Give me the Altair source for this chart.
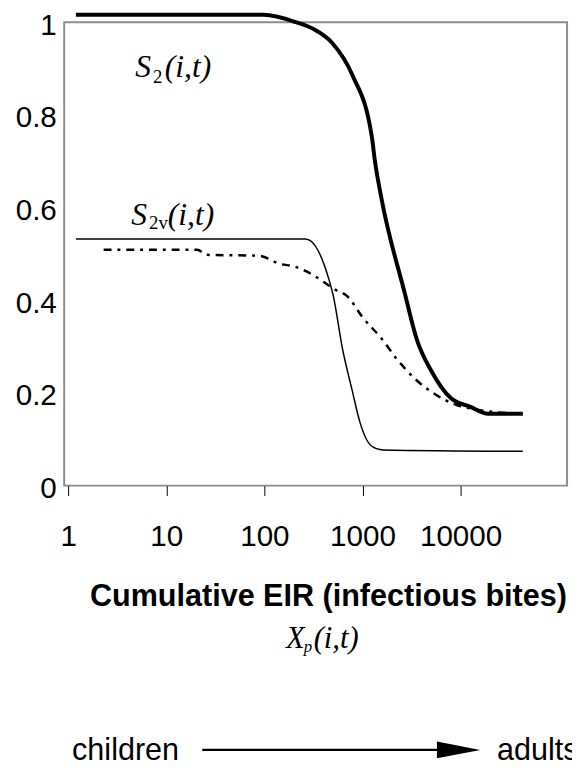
import altair as alt
import pandas as pd

# ---- data ----
s2_x = [1.2, 98, 210, 318, 492, 784, 1245, 1336, 1570, 2670, 3610, 4990, 7940, 12600, 19000, 43000]
s2_y = [1.016, 1.016, 1.0, 0.985, 0.955, 0.887, 0.753, 0.702, 0.617, 0.419, 0.313, 0.249, 0.189, 0.170, 0.155, 0.155]

s2v_x = [1.2, 264, 349, 440, 505, 622, 784, 944, 1245, 1607, 43000]
s2v_y = [0.532, 0.532, 0.509, 0.455, 0.409, 0.298, 0.206, 0.136, 0.085, 0.077, 0.074]

dash_x = [2.3, 20.7, 26, 89, 141, 209, 310, 526, 698, 1012, 1570, 2223, 3373, 5610, 9120, 14500, 43000]
dash_y = [0.509, 0.509, 0.498, 0.496, 0.479, 0.472, 0.455, 0.423, 0.409, 0.362, 0.317, 0.274, 0.232, 0.196, 0.174, 0.164, 0.155]

x_ticks = [1, 10, 100, 1000, 10000]
y_ticks = [0, 0.2, 0.4, 0.6, 0.8, 1.0]
x_domain = [0.9116, 121700]
y_domain = [0, 1]

title_text = "Cumulative EIR (infectious bites)"

SANS = "Liberation Sans"
SERIF = "Liberation Serif"

xs = alt.Scale(type="log", domain=x_domain, nice=False)
ys = alt.Scale(domain=y_domain, nice=False, zero=False)

xaxis = alt.Axis(values=x_ticks, format="d", title=None, grid=False, domain=False,
                 ticks=True, tickSize=10, tickColor="black", tickWidth=1,
                 labelFont=SANS, labelFontSize=30, labelColor="black",
                 labelPadding=51, labelBaseline="alphabetic", labelFlush=False)
yaxis = alt.Axis(values=y_ticks, format="~g", title=None, grid=False, domain=False,
                 ticks=False, labelFont=SANS, labelFontSize=30, labelColor="black",
                 labelPadding=8, labelOffset=3, labelFlush=False)


def curve(xv, yv, **kw):
    df = pd.DataFrame({"x": xv, "y": yv})
    return alt.Chart(df).mark_line(color="black", clip=False, interpolate="monotone", **kw).encode(
        x=alt.X("x:Q", scale=xs, axis=xaxis),
        y=alt.Y("y:Q", scale=ys, axis=yaxis),
    )


l_s2 = curve(s2_x, s2_y, strokeWidth=4)
l_s2v = curve(s2v_x, s2v_y, strokeWidth=1.5)
l_dash = curve(dash_x, dash_y, strokeWidth=2.5, strokeDash=[8, 6, 3, 6])

# curve labels anchored in data coordinates
lab_df = pd.DataFrame({"x": [4.83, 4.40], "y": [0.881, 0.562]})


def piece(text, dx, dy, size, italic=True, row=0):
    d = lab_df.iloc[[row]]
    return alt.Chart(d).mark_text(text=text, font=SERIF, fontSize=size, fontStyle="italic" if italic else "normal",
                                  align="left", baseline="alphabetic", dx=dx, dy=dy, color="black", clip=False).encode(
        x=alt.X("x:Q", scale=xs), y=alt.Y("y:Q", scale=ys))


lbl = (piece("S", 0, 0, 32, row=0) + piece("2", 18, 6, 19, italic=False, row=0) + piece("(i,t)", 30, 0, 32, row=0)
       + piece("S", 0, 0, 32, row=1) + piece("2v", 18, 4, 19, italic=False, row=1) + piece("(i,t)", 37, 0, 32, row=1))

one = pd.DataFrame({"k": [0]})


def ptext(text, x, y, size, font=SANS, weight="normal", style="normal", align="left"):
    return alt.Chart(one).mark_text(text=text, font=font, fontSize=size, fontWeight=weight, fontStyle=style,
                                    align=align, baseline="alphabetic", color="black").encode(
        x=alt.value(x), y=alt.value(y))


title = ptext(title_text, 268, 592, 31, weight="bold", align="center")
xsym = (ptext("X", 225, 635, 31, font=SERIF, style="italic")
        + ptext("p", 243, 639, 17, font=SERIF, style="italic")
        + ptext("(i,t)", 253, 635, 31, font=SERIF, style="italic"))

children = ptext("children", 8, 748, 31)
adults = ptext("adults", 439, 748, 31)
shaft = alt.Chart(one).mark_rule(color="black", strokeWidth=2.5).encode(
    x=alt.value(140), x2=alt.value(385), y=alt.value(738))
head = alt.Chart(one).mark_point(shape="M-1,-0.39L1,0L-1,0.39Z", filled=True, size=1936, color="black", opacity=1).encode(
    x=alt.value(400), y=alt.value(738))

chart = alt.layer(l_dash, l_s2v, l_s2, lbl, title, xsym, children, adults, shaft, head).properties(
    width=510, height=470,
    autosize=alt.AutoSizeParams(type="none"),
    padding={"left": 57, "top": 9, "right": 5, "bottom": 283},
).configure_view(stroke="#8c8c8c", strokeWidth=2)

chart.save("out.html", embed_options={"renderer": "svg", "actions": False})
